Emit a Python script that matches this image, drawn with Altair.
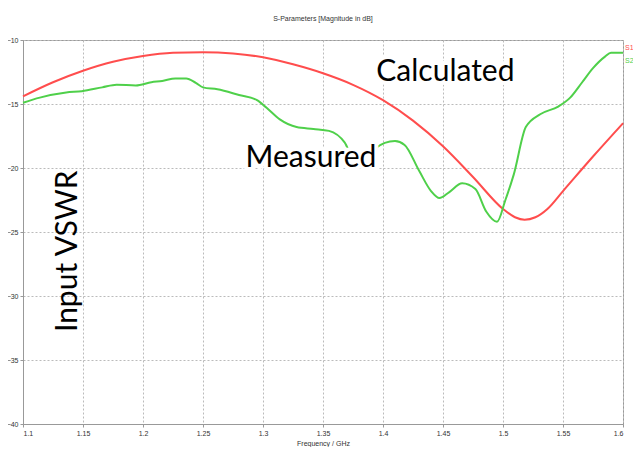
import altair as alt
import pandas as pd

# Calculated (S1)
calc_f = [1.1, 1.125, 1.15, 1.175, 1.2, 1.225, 1.25, 1.275, 1.3, 1.325, 1.35, 1.375, 1.4,
          1.425, 1.45, 1.475, 1.5, 1.51, 1.518, 1.527, 1.537, 1.55, 1.575, 1.6]
calc_db = [-14.4, -13.3, -12.4, -11.7, -11.25, -11.0, -10.95, -11.05, -11.35, -11.9, -12.6,
           -13.5, -14.7, -16.3, -18.3, -20.7, -23.2, -23.85, -24.05, -23.85, -23.2, -21.8,
           -19.1, -16.5]

# Measured (S2)
meas_f = [1.1, 1.114, 1.136, 1.149, 1.166, 1.178, 1.194, 1.207, 1.216, 1.227, 1.236, 1.244,
          1.25, 1.262, 1.28, 1.295, 1.303, 1.314, 1.328, 1.342, 1.355, 1.368, 1.376, 1.384,
          1.393, 1.41, 1.418, 1.43, 1.44, 1.447, 1.455, 1.466, 1.477, 1.486, 1.495,
          1.502, 1.509, 1.519, 1.531, 1.546, 1.556, 1.566, 1.575, 1.585, 1.59, 1.6]
meas_db = [-14.9, -14.5, -14.1, -14.0, -13.7, -13.5, -13.55, -13.3, -13.2, -13.0, -13.0, -13.35,
           -13.7, -13.85, -14.3, -14.7, -15.3, -16.2, -16.8, -16.95, -17.1, -18.0, -19.3, -19.3,
           -18.5, -17.9, -18.2, -20.2, -21.8, -22.35, -21.9, -21.2, -21.65, -23.4, -24.2,
           -22.5, -20.5, -16.8, -15.8, -15.2, -14.5, -13.3, -12.2, -11.3, -11.0, -11.0]

x_ticks = [1.1, 1.15, 1.2, 1.25, 1.3, 1.35, 1.4, 1.45, 1.5, 1.55, 1.6]
y_ticks = [-40, -35, -30, -25, -20, -15, -10]

ann_text = ["Calculated", "Measured"]
ann_f = [1.452, 1.340]
ann_db = [-12.5, -19.2]

RED = "#ff4d4d"
GREEN = "#4fd04a"
FONT = "Lato"
FS = 30

xs = alt.Scale(domain=[1.1, 1.6], nice=False)
ys = alt.Scale(domain=[-40, -10], nice=False)

calc_df = pd.DataFrame({"f": calc_f, "db": calc_db})
meas_df = pd.DataFrame({"f": meas_f, "db": meas_db})

calc = alt.Chart(calc_df).mark_line(strokeWidth=2, interpolate="monotone", color=RED).encode(
    x=alt.X("f:Q", scale=xs, title="Frequency / GHz",
            axis=alt.Axis(values=x_ticks, format="~g", titlePadding=3)),
    y=alt.Y("db:Q", scale=ys, title=None, axis=alt.Axis(values=y_ticks)),
)
meas = alt.Chart(meas_df).mark_line(strokeWidth=2, interpolate="monotone", color=GREEN).encode(
    x=alt.X("f:Q", scale=xs), y=alt.Y("db:Q", scale=ys),
)

ann_df = pd.DataFrame({"t": ann_text, "f": ann_f, "db": ann_db})
halo = alt.Chart(ann_df).mark_text(font=FONT, fontSize=FS, stroke="white", strokeWidth=8,
                                   fill="white").encode(
    x=alt.X("f:Q", scale=xs), y=alt.Y("db:Q", scale=ys), text="t:N")
ann = alt.Chart(ann_df).mark_text(font=FONT, fontSize=FS, color="black").encode(
    x=alt.X("f:Q", scale=xs), y=alt.Y("db:Q", scale=ys), text="t:N")

vswr_df = pd.DataFrame({"t": ["Input VSWR"], "f": [1.1375], "db": [-26.5]})
vswr = alt.Chart(vswr_df).mark_text(font=FONT, fontSize=FS, color="black", angle=270).encode(
    x=alt.X("f:Q", scale=xs), y=alt.Y("db:Q", scale=ys), text="t:N")

leg1 = alt.Chart(pd.DataFrame({"t": ["S1"]})).mark_text(
    fontSize=7, color=RED, align="left", font="Liberation Sans").encode(
    text="t:N", x=alt.value(602), y=alt.value(8))
leg2 = alt.Chart(pd.DataFrame({"t": ["S2"]})).mark_text(
    fontSize=7, color=GREEN, align="left", font="Liberation Sans").encode(
    text="t:N", x=alt.value(602), y=alt.value(21))

chart = alt.layer(calc, meas, halo, ann, vswr, leg1, leg2).properties(
    width=600, height=384,
    title=alt.TitleParams("S-Parameters [Magnitude in dB]", fontSize=7, fontWeight="normal",
                          color="#333333", font="Liberation Sans", offset=14),
    autosize=alt.AutoSizeParams(type="none"),
    padding={"left": 15, "top": 32, "right": 10, "bottom": 23},
).configure_view(stroke="#999999").configure_axis(
    domainColor="#999999", tickColor="#999999", tickSize=3, gridColor="#bbbbbb",
    gridDash=[2, 2], labelFontSize=7, labelColor="#333333", titleFontSize=7,
    titleFontWeight="normal", titleColor="#333333", labelFont="Liberation Sans",
    titleFont="Liberation Sans", labelPadding=2,
)

chart.save("out.html", embed_options={"renderer": "svg", "actions": False})
